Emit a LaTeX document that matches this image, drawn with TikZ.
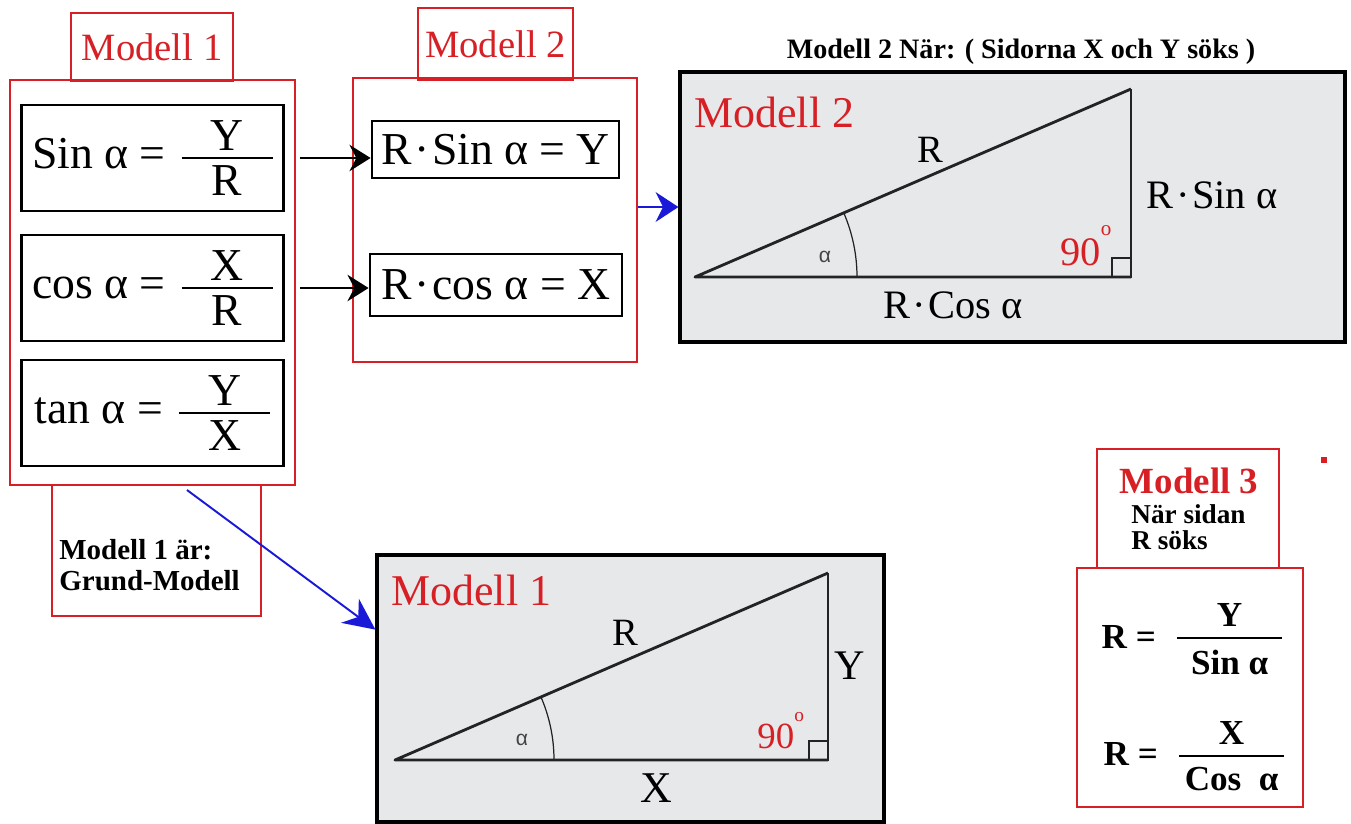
\documentclass[tikz,border=0pt]{standalone}
\usepackage{amsmath}
\usepackage{fontspec}
\setmainfont{Liberation Serif}
\newfontfamily\alphafont{Liberation Sans}
\usetikzlibrary{arrows.meta}

\definecolor{modred}{RGB}{214,32,38}
\definecolor{panelgray}{RGB}{231,232,233}
\definecolor{arrblue}{RGB}{25,25,215}
\definecolor{inkgray}{RGB}{35,35,35}

\newcommand{\pxu}{0.02cm}
\newcommand{\fsz}[1]{\fontsize{#1}{#1}\selectfont}
% fraction: width, gap, rule, numerator, denominator
\newcommand{\brak}[5]{$\vcenter{\hbox to #1{\hfil#4\hfil}\kern#2\hrule height#3\kern#2\hbox to #1{\hfil#5\hfil}}$}
\newcommand{\cdt}{\kern1.5pt·\kern1.5pt}

\tikzset{
    px/.style={x=0.02cm, y=-0.02cm},
    redbox/.style={draw=modred, line width=1.6pt, inner sep=0pt},
    formbox/.style={draw=black, line width=1.6pt, inner sep=0pt, font=\fsz{26}},
    panel/.style={draw=black, line width=1.8pt, fill=panelgray, inner sep=0pt},
    redtitle/.style={text=modred, font=\fsz{22}, inner sep=0pt},
    side/.style={line width=1.6pt, inkgray, line join=round},
    thinside/.style={line width=0.7pt, inkgray},
    lbl/.style={font=\fsz{23}, inner sep=0pt},
    alph/.style={font=\alphafont\fsz{12}, text=inkgray!85, inner sep=0pt},
    deg/.style={text=modred, font=\fsz{23}, inner sep=0pt, anchor=base west},
    blackarr/.style={-{Stealth[length=12pt,width=15pt]}, line width=1.6pt, shorten <=2pt},
    bluearr/.style={-{Stealth[length=13pt,width=17pt]}, line width=1.1pt, arrblue},
}

\begin{document}
\begin{tikzpicture}[px]
        \useasboundingbox (0,0) rectangle (1351,823);
        % modell 1
            \node[redbox, minimum width=285*\pxu, minimum height=405*\pxu] (m1out) at (152.5,282.5) {};
            \node[redbox, redtitle, minimum width=162*\pxu, minimum height=68*\pxu] (m1head) at (152,47) {Modell 1};
            \foreach \n/\y/\lhs/\num/\den in {sinbox/158/Sin/Y/R,cosbox/288/cos/X/R,tanbox/413/tan/Y/X}{
                \node[formbox, minimum width=262*\pxu, minimum height=106*\pxu] (\n) at (152.5,\y) {\lhs\ α =\hspace{0.35em}\brak{2em}{3.5pt}{1.4pt}{\num}{\den}};
            }
        % modell 2
            \node[redbox, minimum width=284*\pxu, minimum height=284*\pxu] (m2out) at (495,220) {};
            \node[redbox, redtitle, minimum width=155*\pxu, minimum height=72*\pxu] (m2head) at (495.5,44) {Modell 2};
            \node[formbox, minimum width=247*\pxu, minimum height=57*\pxu] (rsinbox) at (495.5,149.5) {R\cdt Sin α = Y};
            \node[formbox, minimum width=252*\pxu, minimum height=62*\pxu] (rcosbox) at (496,285) {R\cdt cos α = X};
            \draw[blackarr] (m1out.east |- sinbox) -- (rsinbox.west |- sinbox);
            \draw[blackarr] (m1out.east |- cosbox) -- (rcosbox.west |- cosbox);
        % triangle panel, modell 2
            \node[font=\bfseries\fsz{16}, inner sep=0pt] (m2note) at (1021,52) {Modell 2 När: ( Sidorna X och Y söks )};
            \node[panel, minimum width=665*\pxu, minimum height=270*\pxu] (grey2) at (1012.5,207) {};
            \draw[bluearr] (m2out.east |- grey2.west) -- (grey2.west);
            \draw[side] (1131,277) -- (695,277) -- (1131,89);
            \draw[thinside, line width=1pt] (1131,89) -- (1131,277);
            \draw[thinside] (857,277) arc[start angle=0, end angle=-23.33, radius=162];
            \draw[thinside] (1112,277) rectangle (1131,258);
            \node[redtitle, anchor=west, font=\fsz{25}] (p2title) at (694,112) {Modell 2};
            \node[lbl, font=\fsz{22}] (p2r) at (930,150) {R};
            \node[lbl] (p2y) at (1212,195) {R\cdt Sin α};
            \node[lbl] (p2x) at (953,305) {R\cdt Cos α};
            \node[alph] (p2a) at (825,257) {α};
            \node[deg] (p2deg) at (1060,265) {90\raisebox{0.72em}{\fsz{12}o}};
        % triangle panel, modell 1
            \node[redbox, minimum width=209*\pxu, minimum height=131*\pxu] (grundbox) at (156.5,550.5) {};
            \node[font=\bfseries\fontsize{16.5}{17.5}\selectfont, align=left, anchor=west, inner sep=0pt] (grundtext) at (59,565) {Modell 1 är:\\Grund-Modell};
            \node[panel, minimum width=507*\pxu, minimum height=267*\pxu] (grey1) at (630.5,688.5) {};
            \coordinate (bluestart) at (187,490);
            \draw[bluearr, -{Stealth[length=18pt,width=17pt]}] (bluestart) -- (grey1.167);
            \draw[side] (828,760) -- (395,760) -- (828,573);
            \draw[thinside, line width=1pt] (828,573) -- (828,760);
            \draw[thinside] (554,760) arc[start angle=0, end angle=-23.36, radius=159];
            \draw[thinside] (809,760) rectangle (828,741);
            \node[redtitle, anchor=west, font=\fsz{25}] (p1title) at (391,590) {Modell 1};
            \node[lbl, font=\fsz{22}] (p1r) at (625,633) {R};
            \node[lbl, font=\fsz{24}] (p1y) at (850,666) {Y};
            \node[lbl, font=\fsz{25}] (p1x) at (656,788) {X};
            \node[alph] (p1a) at (522,740) {α};
            \node[deg, font=\fsz{21}] (p1deg) at (757,748) {90\raisebox{0.72em}{\fsz{11}o}};
        % modell 3
            \node[redbox, minimum width=226*\pxu, minimum height=239*\pxu] (m3out) at (1190,687.5) {};
            \node[redbox, minimum width=182*\pxu, minimum height=119*\pxu] (m3head) at (1188,508.5) {};
            \node[text=modred, font=\bfseries\fsz{21}, inner sep=0pt] (m3title) at (1189,481) {Modell 3};
            \node[font=\bfseries\fontsize{15.5}{14.7}\selectfont, align=left, anchor=west, inner sep=0pt] (m3note) at (1131,527) {När sidan\\R söks};
            \node[font=\bfseries\fsz{20}, inner sep=0pt] (rsinform) at (1192,639) {R =\hspace{0.6em}\brak{3em}{6pt}{1.1pt}{Y}{Sin α}};
            \node[font=\bfseries\fsz{20}, inner sep=0pt] (rcosform) at (1194,756) {R =\hspace{0.6em}\brak{3em}{6pt}{1.1pt}{X}{Cos\ \ α}};
            \fill[modred] (1321,457) rectangle (1327,463);
\end{tikzpicture}
\end{document}
